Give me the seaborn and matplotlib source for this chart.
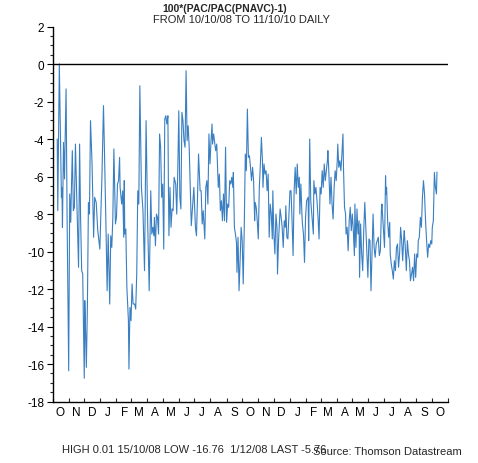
import numpy as np
import pandas as pd
import matplotlib
matplotlib.use("Agg")
import matplotlib.pyplot as plt
import matplotlib.dates as mdates
from matplotlib.ticker import MultipleLocator, NullFormatter
import seaborn as sns

# ---- data: days after 10/10/2008 and the series value ----
day_offsets = [
    0, 1, 4, 8, 9, 10, 12, 14, 15, 17, 19, 22, 24, 26, 27, 29, 31, 33, 35, 37, 38,
    41, 43, 45, 47, 49, 52, 53, 54, 56, 58, 60, 62, 64, 67, 70, 72, 75, 78, 82, 86,
    89, 91, 94, 96, 98, 101, 103, 105, 107, 109, 112, 114, 116,
    118, 120, 121, 124, 126, 128, 129, 130, 132, 134, 137, 138, 140, 142, 144, 146,
    149, 151, 153, 155, 157, 159, 162, 165, 168, 171, 174, 177, 180, 182, 184, 186,
    187, 189, 191, 193, 195, 197, 199, 201, 203, 205, 207, 209, 211, 213, 214, 215,
    217, 219, 221, 223, 225, 228, 230, 232, 234, 236,
    238, 240, 242, 244, 246, 248, 250, 252, 254, 256, 258, 260, 263, 265, 266, 268,
    270, 272, 275, 277, 279, 281, 284, 286, 288, 290, 292, 294, 296, 298, 299, 301,
    303, 305, 307, 310, 312, 314, 316, 318, 320, 322, 324, 326, 328, 330, 332, 334,
    336, 338, 339, 341, 343, 345, 346, 348, 350, 352, 354, 356, 358,
    360, 362, 364, 366, 368, 370, 372, 374, 376, 378, 380, 381, 383, 385, 387, 389,
    391, 393, 395, 396, 398, 400, 402, 404, 406, 408, 410, 412, 414, 415, 417, 419,
    421, 423, 424, 426, 429, 431, 433, 435, 437, 439, 440, 442, 444, 446, 448, 450,
    452, 454, 456, 458, 460, 462, 464, 466, 467, 469, 471, 472, 474, 476, 478, 480,
    483, 484, 486, 488, 491, 493, 494, 496, 498, 500, 502, 504, 506, 508, 510, 512,
    514, 516, 518, 520, 521, 523, 525, 527, 529, 531, 533, 535, 537, 539, 540, 542,
    544, 546, 548, 550, 551, 553, 555, 556, 558, 560, 562, 564, 566, 568, 570, 572,
    573, 575, 577, 579, 581, 582, 584, 586, 588, 590, 592, 594, 596, 598, 600,
    602, 604, 606, 608, 610, 612, 614, 616, 618, 620, 622, 624, 625, 627, 630, 632,
    633, 634, 636, 638, 640, 641, 643, 645, 647, 649, 651, 653, 655, 657, 659, 661,
    663, 665, 667, 668, 670, 672, 674, 676, 678, 680, 682, 684, 686, 688, 690, 692,
    694, 695, 697, 699, 701, 703, 705, 707, 709, 711, 713, 715, 717, 719, 721, 722,
    724, 726, 728, 730, 731,
]
values = [
    -4.00, -7.82, 0.01, -7.11, -6.58, -8.71, -4.18, -6.13, -4.27, -1.33, -8.36,
    -16.36, -6.93, -8.44, -6.93, -4.62, -7.82, -7.64, -4.27, -6.58, -7.64,
    -10.84, -4.27, -8.36, -11.02, -11.20, -16.76, -12.62, -13.69, -16.18, -12.98,
    -7.38, -8.00, -3.02, -5.33, -9.24, -7.11, -7.38, -8.89, -9.87, -6.04,
    -2.22, -4.80, -8.98, -12.09, -9.07, -12.80, -9.16, -9.78, -8.18, -4.53, -8.53,
    -8.18, -6.40,
    -6.22, -4.98, -6.58, -7.47, -6.76, -9.24, -6.22, -9.07, -8.80, -11.91, -13.69,
    -16.27, -12.98, -13.69, -11.73, -12.80, -12.80, -13.07, -11.20, -6.76, -7.47,
    -1.16, -6.58, -7.82, -11.02, -3.02, -8.36, -12.09, -6.76, -9.07, -8.71, -9.16,
    -8.18, -9.69, -8.00, -8.18, -9.07, -3.73, -4.44, -7.11, -6.40, -9.87, -2.93,
    -2.76, -3.20, -2.76, -6.58, -9.16, -6.58, -8.71, -7.73, -7.82, -6.04, -6.40,
    -8.00, -5.69, -2.49, -7.11,
    -7.73, -2.58, -3.02, -4.09, -4.44, -0.36, -4.09, -3.29, -4.44, -6.58, -8.62,
    -7.82, -6.58, -8.00, -8.71, -9.16, -7.11, -4.80, -6.76, -6.76, -8.53, -7.82,
    -9.33, -6.58, -6.22, -7.47, -3.73, -5.33, -4.09, -3.20, -4.27, -3.73, -4.18,
    -4.62, -4.27, -6.58, -5.87, -7.82, -7.29, -8.36, -6.93, -8.36, -4.44, -8.44,
    -7.47, -7.64, -6.22, -6.40, -6.04, -6.58, -5.78, -8.71, -9.07, -9.51, -11.11,
    -9.24, -12.09, -10.49, -8.71, -9.42, -11.73,
    -8.71, -4.80, -5.69, -2.40, -4.98, -4.89, -5.51, -6.22, -5.51, -6.22, -8.36,
    -7.38, -7.64, -8.36, -9.33, -6.58, -5.33, -3.91, -5.16, -6.58, -5.33, -5.87,
    -5.69, -6.76, -5.87, -9.24, -7.47, -8.00, -9.33, -6.76, -9.07, -10.13, -8.00,
    -8.71, -11.20, -9.42, -7.73, -8.18, -8.71, -9.78, -8.36, -8.71, -7.56, -9.24,
    -9.33, -8.00, -6.76, -6.76, -8.36, -10.22, -6.76, -5.51, -6.93, -5.33, -6.58,
    -6.04, -8.00, -6.40, -8.00, -8.53, -9.07, -10.58, -8.18, -7.29,
    -7.11, -9.42, -4.00, -7.29, -8.36, -9.07, -6.22, -6.93, -6.58, -7.29, -8.18,
    -9.33, -6.58, -6.93, -5.69, -6.58, -5.33, -6.22, -5.69, -5.16, -4.62, -5.87,
    -7.47, -6.04, -7.47, -8.27, -6.58, -5.69, -6.22, -5.16, -4.27, -5.51, -5.16,
    -5.69, -4.80, -3.73, -5.51, -7.64, -8.00, -9.07, -8.71, -9.96, -8.36, -7.64,
    -8.89, -8.00, -8.89, -10.22, -7.47, -9.78, -7.73, -9.07, -8.36, -11.38, -8.53,
    -10.13, -11.02, -8.89, -7.38, -8.71, -9.96, -11.38, -9.33,
    -9.42, -12.09, -9.96, -8.00, -9.78, -10.31, -9.60, -9.42, -9.24, -10.22, -9.96,
    -7.82, -7.47, -8.36, -9.78, -5.96, -6.93, -6.58, -8.36, -9.24, -8.44, -10.13,
    -10.67, -11.02, -11.47, -10.49, -11.02, -9.78, -9.60, -10.84, -10.13, -8.71,
    -9.42, -10.49, -9.24, -8.89, -9.78, -11.02, -9.42, -10.13, -10.49, -11.56,
    -11.20, -10.84, -11.56, -10.13, -11.38, -10.13, -10.31, -9.42, -9.24, -8.18,
    -8.71, -7.11, -6.22, -6.93, -8.36, -9.42, -10.31, -9.60, -9.78, -9.42, -9.60,
    -8.71, -8.36, -5.78, -6.58, -6.93, -5.76,
]

start_date = "2008-10-10"
axis_start, axis_end = "2008-10-01", "2010-11-01"
month_letters = ["J", "F", "M", "A", "M", "J", "J", "A", "S", "O", "N", "D"]
title_line1 = "100*(PAC/PAC(PNAVC)-1)"
title_line2 = "FROM 10/10/08 TO 11/10/10 DAILY"
footer_stats = "HIGH 0.01 15/10/08 LOW -16.76  1/12/08 LAST -5.76"
footer_source = "Source: Thomson Datastream"

df = pd.DataFrame({
    "date": pd.Timestamp(start_date) + pd.to_timedelta(day_offsets, unit="D"),
    "value": values,
})

sns.set_style("ticks")
plt.rcParams["font.family"] = ["Liberation Sans", "DejaVu Sans"]
plt.rcParams["axes.unicode_minus"] = False

fig = plt.figure(figsize=(4.78, 4.64), dpi=100)
ax = fig.add_axes([0.110, 0.1325, 0.827, 0.8082])

sns.lineplot(data=df, x="date", y="value", ax=ax, color="#3a7fc1",
             linewidth=0.8, estimator=None)
ax.axhline(0, color="black", linewidth=1.0, zorder=3)

ax.set_xlim(pd.Timestamp(axis_start), pd.Timestamp(axis_end))
ax.set_ylim(-18, 2)
ax.set_xlabel("")
ax.set_ylabel("")

for side in ["top", "right"]:
    ax.spines[side].set_visible(False)
for side in ["left", "bottom"]:
    ax.spines[side].set_color("black")
    ax.spines[side].set_linewidth(1.0)

# y ticks
ax.yaxis.set_major_locator(MultipleLocator(2))
ax.yaxis.set_minor_locator(MultipleLocator(0.5))
ax.tick_params(axis="y", which="major", direction="out", length=4, width=0.8,
               labelsize=8.5, pad=2, colors="black")
ax.tick_params(axis="y", which="minor", direction="out", length=2, width=0.8)
ax.set_yticks(ax.get_yticks())
ax.set_yticklabels([f"{int(v)}" for v in ax.get_yticks()])
ax.set_ylim(-18, 2)

# x ticks: month boundaries (major, no labels); mid-month letters (minor)
ax.xaxis.set_major_locator(mdates.MonthLocator())
ax.xaxis.set_major_formatter(NullFormatter())
ax.xaxis.set_minor_locator(mdates.MonthLocator(bymonthday=16))
ax.xaxis.set_minor_formatter(
    matplotlib.ticker.FuncFormatter(
        lambda v, p: month_letters[mdates.num2date(v).month - 1]))
ax.tick_params(axis="x", which="major", direction="in", length=3, width=0.8)
ax.tick_params(axis="x", which="minor", length=0, labelsize=8.5, pad=3,
               colors="black")

fig.text(0.47, 0.992, title_line1, ha="center", va="top", fontsize=7.5,
         fontweight="bold", fontstretch="condensed")
fig.text(0.505, 0.968, title_line2, ha="center", va="top", fontsize=8)
fig.text(0.13, 0.03, footer_stats, ha="left", va="center", fontsize=8)
fig.text(0.967, 0.025, footer_source, ha="right", va="center", fontsize=8)

fig.savefig("out.png", dpi=100)
